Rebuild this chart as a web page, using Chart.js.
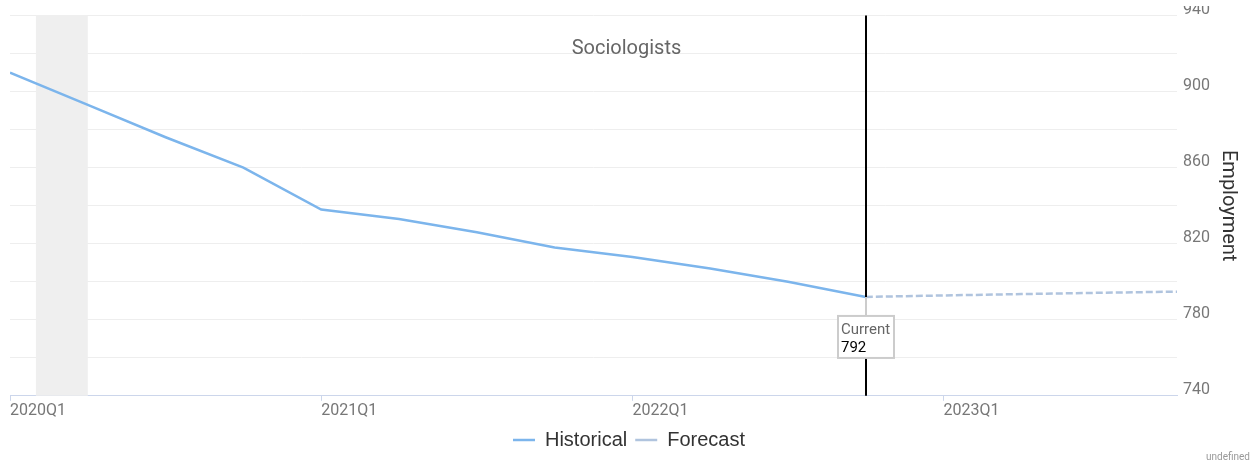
<!DOCTYPE html>
<html>
<head>
<meta charset="utf-8">
<title>Sociologists</title>
<script src="https://cdn.jsdelivr.net/npm/chart.js@4.4.1/dist/chart.umd.min.js"></script>
<style>
    body { margin: 0; background: #fff; }
    .chart-box { position: relative; width: 1253px; height: 464px; }
</style>
</head>
<body>
<div class="chart-box"><canvas id="employment-chart"></canvas></div>
<script>
    // start: Data
    const quarters = [
        '2020Q1', '2020Q2', '2020Q3', '2020Q4',
        '2021Q1', '2021Q2', '2021Q3', '2021Q4',
        '2022Q1', '2022Q2', '2022Q3', '2022Q4',
        '2023Q1', '2023Q2', '2023Q3', '2023Q4',
    ];
    const historical = [910, 893, 876, 860, 838, 833, 826, 818, 813, 807, 800, 792];
    const forecast = [792, 792.8, 793.5, 794.2, 794.8];
    const forecastStart = 11;          // forecast begins at the current quarter (2022Q4)
    const recession = [1 / 3, 1];      // Feb 2020 -> Apr 2020, in quarter units
    const xTickLabels = ['2020Q1', '2021Q1', '2022Q1', '2023Q1'];
    const yTickLabels = [740, 780, 820, 860, 900, 940];
    // end: Data

    const font = 'Roboto, "Noto Sans", sans-serif';
    const legendFont = '"Liberation Sans", Arial, sans-serif';

    const historicalPoints = historical.map((v, i) => ({ x: i, y: v }));
    const forecastPoints = forecast.map((v, i) => ({ x: forecastStart + i, y: v }));

    // start: Extras (recession band, title, current marker, credits)
    const extras = {
        id: 'extras',
        beforeDatasetsDraw(chart) {
            const { ctx, chartArea, scales: { x } } = chart;
            const x0 = x.getPixelForValue(recession[0]);
            const x1 = x.getPixelForValue(recession[1]);
            ctx.save();
            ctx.fillStyle = '#efefef';
            ctx.fillRect(x0, chartArea.top, x1 - x0, chartArea.bottom - chartArea.top);

            ctx.fillStyle = '#666';
            ctx.font = '20px ' + font;
            ctx.textAlign = 'center';
            ctx.textBaseline = 'middle';
            ctx.fillText('Sociologists', chart.width / 2, 49);
            ctx.restore();
        },
        afterDatasetsDraw(chart) {
            const { ctx, chartArea, scales: { x, y } } = chart;
            const current = historical[historical.length - 1];
            const cx = Math.round(x.getPixelForValue(forecastStart));
            const cy = y.getPixelForValue(current);

            ctx.save();
            ctx.strokeStyle = '#000';
            ctx.lineWidth = 2;
            ctx.beginPath();
            ctx.moveTo(cx, chartArea.top);
            ctx.lineTo(cx, chartArea.bottom);
            ctx.stroke();

            ctx.font = '15px ' + font;
            const w = Math.ceil(ctx.measureText('Current').width) + 6;
            const h = 42;
            const top = cy + 19;
            const left = cx - w / 2;

            ctx.strokeStyle = '#ccc';
            ctx.beginPath();
            ctx.moveTo(cx, cy);
            ctx.lineTo(cx, top);
            ctx.stroke();

            ctx.fillStyle = '#fff';
            ctx.fillRect(left, top, w, h);
            ctx.strokeRect(left, top, w, h);

            ctx.textAlign = 'left';
            ctx.textBaseline = 'alphabetic';
            ctx.fillStyle = '#666';
            ctx.fillText('Current', left + 3, top + 18);
            ctx.fillStyle = '#000';
            ctx.fillText(String(current), left + 3, top + 36);
            ctx.restore();
        },
        afterDraw(chart) {
            const { ctx, chartArea } = chart;
            ctx.save();
            // top of the axis column is cut off in the original
            ctx.fillStyle = '#fff';
            ctx.fillRect(chartArea.right + 1, 0, chart.width - chartArea.right, 6);

            ctx.fillStyle = '#999';
            ctx.font = '10px ' + font;
            ctx.textAlign = 'right';
            ctx.textBaseline = 'middle';
            ctx.fillText('undefined', chart.width - 3, 457);
            ctx.restore();
        }
    };
    // end: Extras

    // start: Chart
    const employmentChart = new Chart(document.getElementById('employment-chart'), {
        type: 'line',
        data: {
            datasets: [{
                label: 'Historical',
                data: historicalPoints,
                borderColor: '#7cb5ec',
                backgroundColor: '#7cb5ec',
                borderWidth: 2.5,
                pointRadius: 0,
                tension: 0,
            }, {
                label: 'Forecast',
                data: forecastPoints,
                borderColor: '#b0c4de',
                backgroundColor: '#b0c4de',
                borderWidth: 2.5,
                borderDash: [7, 3],
                pointRadius: 0,
                tension: 0,
            }]
        },
        options: {
            responsive: true,
            maintainAspectRatio: false,
            animation: false,
            layout: {
                padding: { top: 15, left: 10, right: 5, bottom: 4 }
            },
            scales: {
                x: {
                    type: 'linear',
                    min: 0,
                    max: quarters.length - 1,
                    afterBuildTicks(scale) {
                        scale.ticks = xTickLabels.map(l => ({ value: quarters.indexOf(l) }));
                    },
                    border: { color: '#ccd6eb', width: 1 },
                    grid: {
                        drawOnChartArea: false,
                        color: '#ccd6eb',
                        tickLength: 5,
                    },
                    ticks: {
                        align: 'start',
                        padding: 1,
                        color: '#777',
                        font: { family: font, size: 16 },
                        callback: v => quarters[v],
                    }
                },
                y: {
                    position: 'right',
                    min: 740,
                    max: 940,
                    border: { display: false },
                    grid: {
                        color: '#eeeeee',
                        drawTicks: false,
                    },
                    ticks: {
                        stepSize: 20,
                        padding: 6,
                        labelOffset: -6,
                        color: '#777',
                        font: { family: font, size: 16 },
                        callback: v => yTickLabels.includes(v) ? v : '',
                    },
                    title: {
                        display: true,
                        text: 'Employment',
                        color: '#333',
                        font: { family: font, size: 20 },
                        padding: { top: 8, bottom: 0 },
                    }
                }
            },
            plugins: {
                legend: {
                    position: 'bottom',
                    labels: {
                        usePointStyle: true,
                        pointStyle: 'line',
                        pointStyleWidth: 22,
                        padding: 8,
                        color: '#333',
                        font: { family: legendFont, size: 20 },
                    }
                },
                tooltip: { enabled: false }
            }
        },
        plugins: [extras]
    });
    // end: Chart
</script>
</body>
</html>
